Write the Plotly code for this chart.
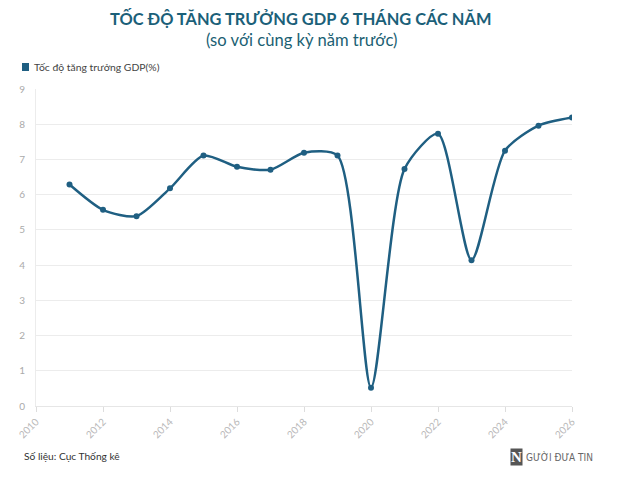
import plotly.graph_objects as go

years = [2011, 2012, 2013, 2014, 2015, 2016, 2017, 2018, 2019, 2020, 2021, 2022, 2023, 2024, 2025, 2026]
gdp = [6.29, 5.57, 5.39, 6.18, 7.11, 6.79, 6.71, 7.19, 7.11, 0.52, 6.73, 7.73, 4.14, 7.25, 7.96, 8.19]
x_ticks = [2010, 2012, 2014, 2016, 2018, 2020, 2022, 2024, 2026]
y_ticks = [0, 1, 2, 3, 4, 5, 6, 7, 8, 9]
series_name = "Tốc độ tăng trưởng GDP(%)"

color = "#1f5f82"
fig = go.Figure()
fig.add_trace(go.Scatter(
    x=years, y=gdp, mode="lines+markers", name=series_name,
    line=dict(color=color, width=2.5, shape="spline", smoothing=0.7),
    marker=dict(size=6, color=color), showlegend=False, hoverinfo="x+y"))

# plot area: left 36, right 572, top 89, bottom 406
L, R, T, B = 36, 572, 89, 406
W, H = 640, 488
def py(ypix):
    return (B - ypix) / (B - T)
def px(xpix):
    return (xpix - L) / (R - L)

fig.update_layout(
    width=W, height=H,
    margin=dict(l=L, r=W - R, t=T, b=H - B, pad=0, autoexpand=False),
    paper_bgcolor="white", plot_bgcolor="white",
    font=dict(family="Lato, 'Open Sans', sans-serif"),
    showlegend=False,
    xaxis=dict(range=[2010, 2026], tickvals=x_ticks, ticktext=[str(t) for t in x_ticks], tickangle=-45,
               showgrid=False, showline=True, linecolor="#e6e6e6", linewidth=1,
               ticks="outside", ticklen=5, tickcolor="#dddddd",
               tickfont=dict(size=10, color="#b8b8b8"), zeroline=False, fixedrange=True),
    yaxis=dict(range=[0, 9], tickvals=y_ticks, showgrid=True, gridcolor="#ececec", gridwidth=1,
               showline=True, linecolor="#ececec", zeroline=False,
               ticks="", ticklabelstandoff=8,
               tickfont=dict(size=10, color="#aaaaaa"), fixedrange=True),
    shapes=[
        dict(type="rect", xref="paper", yref="paper", x0=px(22), x1=px(29), y0=py(71), y1=py(63),
             fillcolor=color, line=dict(width=0)),
    ],
    annotations=[
        dict(text="<b>TỐC ĐỘ TĂNG TRƯỞNG GDP 6 THÁNG CÁC NĂM</b>", xref="paper", yref="paper",
             x=px(300), y=py(18), xanchor="center", yanchor="middle", showarrow=False,
             font=dict(size=16.4, color="#1b6079", family="Lato, sans-serif")),
        dict(text="(so với cùng kỳ năm trước)", xref="paper", yref="paper",
             x=px(301), y=py(40), xanchor="center", yanchor="middle", showarrow=False,
             font=dict(size=16.6, color="#1b5f73", family="Lato, sans-serif")),
        dict(text=series_name, xref="paper", yref="paper",
             x=px(32), y=py(67), xanchor="left", yanchor="middle", showarrow=False,
             font=dict(size=10.4, color="#444444")),
        dict(text="Số liệu: Cục Thống kê", xref="paper", yref="paper",
             x=px(22), y=py(456), xanchor="left", yanchor="middle", showarrow=False,
             font=dict(size=10.2, color="#333333")),
        dict(text="<b>N</b>", xref="paper", yref="paper",
             x=px(510), y=py(457), xanchor="left", yanchor="middle", showarrow=False,
             bgcolor="#555555", borderpad=0,
             font=dict(size=15, color="white", family="'Liberation Serif', serif")),
        dict(text="GƯỜI ĐƯA TIN", xref="paper", yref="paper",
             x=px(524), y=py(457), xanchor="left", yanchor="middle", showarrow=False,
             font=dict(size=10, color="#666666", family="'Liberation Sans Narrow', 'DejaVu Sans Condensed', sans-serif")),
    ],
)

fig.write_html("out.html")
